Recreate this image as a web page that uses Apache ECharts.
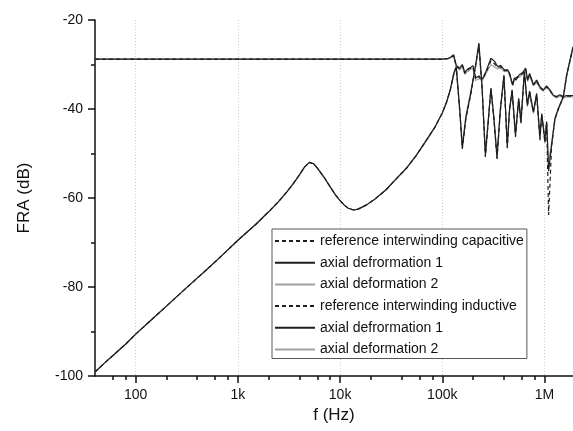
<!DOCTYPE html>
<html>
<head>
<meta charset="utf-8">
<script src="https://cdn.jsdelivr.net/npm/echarts@6/dist/echarts.min.js"></script>
<style>
  html, body { margin: 0; padding: 0; background: #fff; }
  #chart { width: 573px; height: 431px; }
</style>
</head>
<body>
<div id="chart"></div>
<script>
// ---------------- data ----------------
const xTickLabels = ['100', '1k', '10k', '100k', '1M'];
const xMajorTicks = [100, 1000, 10000, 100000, 1000000];
const xMinorTicks = [60, 80, 200, 400, 600, 800, 2000, 4000, 6000, 8000,
  20000, 40000, 60000, 80000, 200000, 400000, 600000, 800000];

const legendLabels = [
  'reference interwinding capacitive',
  'axial defrormation 1',
  'axial deformation 2',
  'reference interwinding inductive',
  'axial defrormation 1',
  'axial deformation 2'
];

// capacitive (interwinding) group
const capFreq = [40, 1e5, 1.13e5, 1.21e5, 1.29e5, 1.37e5, 1.48e5, 1.57e5, 1.66e5, 1.78e5,
  1.9e5, 2.0e5, 2.12e5, 2.28e5, 2.48e5, 2.68e5, 2.99e5, 3.25e5, 3.48e5, 3.72e5,
  3.89e5, 4.04e5, 4.36e5, 4.56e5, 4.88e5, 5.07e5, 5.25e5, 5.67e5, 6.11e5, 6.54e5,
  6.84e5, 7.15e5, 7.78e5, 8.38e5, 9.02e5, 9.73e5, 1.049e6, 1.13e6, 1.22e6, 1.314e6,
  1.415e6, 1.528e6, 1.645e6, 1.9e6];
const capRef = [-28.8, -28.8, -28.7, -28.4, -28.0, -30.4, -31.0, -30.2, -32.0, -31.2,
  -30.8, -30.6, -33.2, -32.9, -33.3, -31.8, -29.2, -29.9, -30.7, -30.5,
  -30.7, -31.4, -31.3, -32.2, -34.7, -33.2, -33.6, -32.5, -32.0, -31.1,
  -33.6, -32.2, -34.6, -33.7, -35.2, -35.8, -35.0, -35.8, -37.0, -37.3,
  -36.9, -37.3, -37.1, -37.1];
const capDef1 = [-28.8, -28.8, -28.7, -28.3, -27.8, -30.2, -30.8, -30.0, -31.8, -31.0,
  -30.6, -30.3, -33.0, -32.6, -33.2, -31.5, -28.6, -29.3, -30.5, -30.2,
  -30.6, -31.2, -31.2, -32.0, -34.6, -33.0, -33.5, -32.3, -31.8, -30.8,
  -33.5, -32.0, -34.5, -33.5, -35.0, -35.7, -34.8, -35.7, -36.9, -37.2,
  -36.8, -37.2, -37.0, -37.0];
const capDef2 = [-28.8, -28.8, -28.7, -28.5, -28.2, -30.6, -31.2, -30.5, -32.2, -31.5,
  -31.0, -31.0, -33.6, -33.2, -33.5, -32.0, -30.0, -30.6, -31.0, -30.8,
  -30.9, -31.6, -31.5, -32.4, -34.8, -33.4, -33.8, -32.8, -32.2, -31.4,
  -33.8, -32.5, -34.8, -34.0, -35.4, -36.0, -35.2, -36.0, -37.1, -37.5,
  -37.1, -37.5, -37.3, -37.3];

// inductive group: common low-frequency part
const indLowFreq = [40, 50, 60, 80, 100, 150, 200, 300, 400, 500,
  700, 1000, 1500, 2000, 2500, 3000, 3500, 4000, 4500, 5000,
  5500, 6000, 7000, 8000, 9000, 10000, 11000, 12000, 13600, 15000,
  18000, 22000, 28000, 35000, 45000, 55000, 70000, 85000, 100000, 110000];
const indLowDb = [-99.1, -97.0, -95.4, -92.8, -90.6, -86.9, -84.3, -80.6, -78.0, -76.0,
  -72.9, -69.5, -65.9, -63.1, -60.8, -58.7, -56.7, -54.8, -53.0, -52.0,
  -52.3, -53.3, -55.4, -57.5, -59.3, -60.6, -61.6, -62.3, -62.7, -62.5,
  -61.6, -60.2, -58.2, -55.8, -53.2, -50.6, -47.0, -44.0, -40.9, -38.5];
// inductive group: high-frequency part
const indHighFreq = [1.2e5, 1.3e5, 1.37e5, 1.48e5, 1.57e5, 1.7e5, 1.9e5, 2.12e5, 2.28e5, 2.45e5,
  2.64e5, 2.99e5, 3.2e5, 3.43e5, 3.7e5, 4.01e5, 4.32e5, 4.55e5, 4.82e5, 5.2e5,
  5.59e5, 5.88e5, 6.35e5, 6.8e5, 7.15e5, 7.78e5, 8.38e5, 9.02e5, 9.4e5, 1.009e6,
  1.049e6, 1.097e6, 1.174e6, 1.264e6, 1.365e6, 1.528e6, 1.645e6, 1.9e6];
const indRefHigh = [-35.6, -32.0, -30.7, -40.2, -49.0, -42.2, -36.7, -30.2, -25.5, -35.2,
  -50.8, -35.5, -42.2, -51.2, -40.3, -32.6, -48.8, -40.2, -35.9, -46.3,
  -37.8, -43.2, -31.8, -39.2, -36.2, -40.8, -36.7, -47.0, -41.2, -47.6,
  -43.0, -63.8, -48.3, -42.3, -40.0, -37.3, -32.5, -26.2];
const indDef1High = [-35.5, -31.8, -30.5, -40.0, -48.8, -42.0, -36.5, -30.0, -25.2, -35.0,
  -50.5, -35.3, -42.0, -51.0, -40.0, -32.4, -48.5, -40.0, -35.7, -46.0,
  -37.6, -43.0, -31.6, -39.0, -36.0, -40.6, -36.5, -46.6, -41.0, -47.3,
  -42.8, -54.0, -48.1, -42.1, -39.9, -37.2, -32.4, -26.0];
const indDef2High = [-35.8, -32.2, -31.0, -40.5, -48.0, -41.5, -36.0, -30.5, -26.0, -35.5,
  -49.5, -35.8, -42.5, -50.0, -40.5, -33.0, -47.5, -40.5, -36.0, -45.0,
  -38.0, -42.5, -32.2, -39.5, -36.5, -41.0, -37.0, -45.5, -41.5, -46.5,
  -43.2, -52.0, -47.5, -42.5, -40.2, -37.5, -32.8, -26.3];

// ---------------- chart ----------------
const pairs = (fs, vs) => fs.map((f, i) => [f, vs[i]]);
const indFreq = indLowFreq.concat(indHighFreq);

const BLACK = '#1e1e1e';
const GREY = '#a0a0a0';
const FONT = 'Liberation Sans, Arial, Helvetica, sans-serif';

const seriesNames = [
  legendLabels[0], legendLabels[1], legendLabels[2],
  legendLabels[3], legendLabels[4] + ' ', legendLabels[5] + ' '
];

function mk(name, data, color, dashed) {
  return {
    name: name, type: 'line', data: data, symbol: 'none', showSymbol: false,
    lineStyle: { color: color, width: 1.2, type: dashed ? [4, 3] : 'solid' },
    itemStyle: { color: color },
    emphasis: { disabled: true },
    animation: false
  };
}

const chart = echarts.init(document.getElementById('chart'), null, { renderer: 'canvas' });
chart.setOption({
  animation: false,
  backgroundColor: '#fff',
  grid: { left: 95, right: 0, top: 20, bottom: 55, containLabel: false },
  legend: {
    data: seriesNames,
    orient: 'vertical',
    left: 272, top: 229,
    padding: [5, 3, 2, 2],
    itemWidth: 40, itemHeight: 14, itemGap: 7.7,
    backgroundColor: '#fff',
    borderColor: '#555', borderWidth: 1, borderRadius: 0,
    selectedMode: false,
    itemStyle: { opacity: 0, borderWidth: 0 },
    formatter: function (n) { return n.trim(); },
    textStyle: { fontSize: 14, fontFamily: FONT, color: '#111', padding: [0, 0, 0, 0] }
  },
  xAxis: [{
    type: 'log', logBase: 10, min: 40, max: 1.9e6,
    name: 'f (Hz)', nameLocation: 'middle', nameGap: 28,
    nameTextStyle: { fontSize: 17, fontFamily: FONT, color: '#111' },
    axisLine: { show: true, onZero: false, lineStyle: { color: '#111', width: 1.5 } },
    axisTick: { show: true, inside: false, length: 7, customValues: xMajorTicks,
      lineStyle: { color: '#111', width: 1.5 } },
    axisLabel: { show: true, customValues: xMajorTicks, margin: 12, fontSize: 14,
      fontFamily: FONT, color: '#111',
      formatter: function (v) { const i = xMajorTicks.indexOf(v); return i >= 0 ? xTickLabels[i] : ''; } },
    splitLine: { show: true, lineStyle: { color: '#cfcfcf', width: 1, type: [1, 2] } }
  }, {
    type: 'log', logBase: 10, min: 40, max: 1.9e6, gridIndex: 0, position: 'bottom',
    axisLine: { show: false, onZero: false },
    axisTick: { show: true, inside: false, length: 4, customValues: xMinorTicks,
      lineStyle: { color: '#111', width: 1.5 } },
    axisLabel: { show: false },
    splitLine: { show: false }
  }],
  yAxis: {
    type: 'value', min: -100, max: -20, interval: 20,
    name: 'FRA (dB)', nameLocation: 'middle', nameGap: 62,
    nameTextStyle: { fontSize: 17, fontFamily: FONT, color: '#111' },
    axisLine: { show: true, onZero: false, lineStyle: { color: '#111', width: 1.5 } },
    axisTick: { show: true, inside: false, length: 7, lineStyle: { color: '#111', width: 1.5 } },
    minorTick: { show: true, splitNumber: 2, length: 4, lineStyle: { color: '#111', width: 1.5 } },
    axisLabel: { margin: 12, fontSize: 14, fontFamily: FONT, color: '#111' },
    splitLine: { show: false }
  },
  series: [
    mk(seriesNames[2], pairs(capFreq, capDef2), GREY, false),
    mk(seriesNames[0], pairs(capFreq, capRef), BLACK, true),
    mk(seriesNames[1], pairs(capFreq, capDef1), BLACK, false),
    mk(seriesNames[5], pairs(indFreq, indLowDb.concat(indDef2High)), GREY, false),
    mk(seriesNames[3], pairs(indFreq, indLowDb.concat(indRefHigh)), BLACK, true),
    mk(seriesNames[4], pairs(indFreq, indLowDb.concat(indDef1High)), BLACK, false)
  ]
});
</script>
</body>
</html>
